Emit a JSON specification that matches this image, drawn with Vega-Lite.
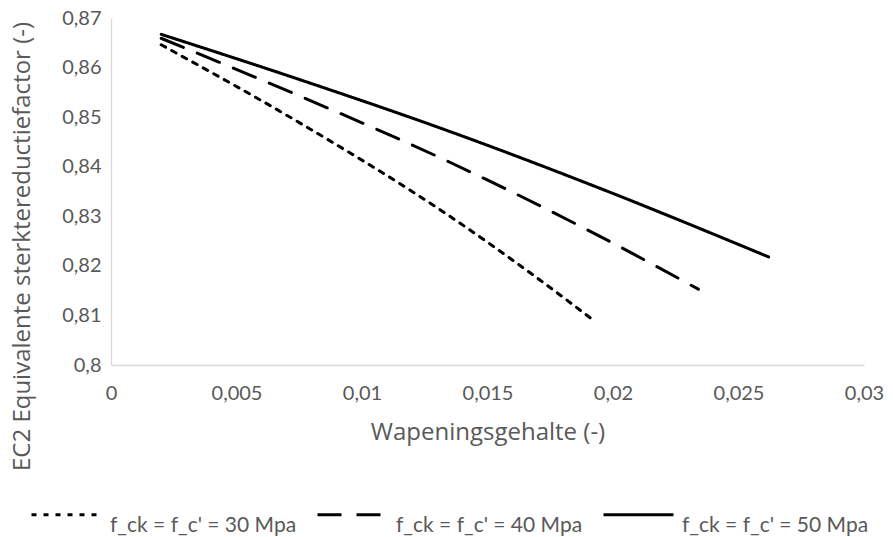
{
  "$schema": "https://vega.github.io/schema/vega-lite/v6.json",
  "width": 753,
  "height": 347,
  "autosize": "none",
  "padding": {"left": 111, "top": 18, "right": 29, "bottom": 172},
  "background": "white",
  "config": {
    "font": "Lato",
    "view": {"stroke": null},
    "axis": {
      "grid": false,
      "ticks": false,
      "domainColor": "#d9d9d9",
      "domainWidth": 1.3,
      "labelColor": "#595959",
      "labelFontSize": 20,
      "labelFont": "Lato",
      "titleColor": "#595959",
      "titleFontSize": 24,
      "titleFont": "Open Sans",
      "titleFontWeight": "normal"
    }
  },
  "data": {
    "values": [
      {"serie": "f_ck = f_c' = 30 Mpa", "rho": 0.002, "factor": 0.8646},
      {"serie": "f_ck = f_c' = 30 Mpa", "rho": 0.0075, "factor": 0.8489},
      {"serie": "f_ck = f_c' = 30 Mpa", "rho": 0.0135, "factor": 0.8300},
      {"serie": "f_ck = f_c' = 30 Mpa", "rho": 0.0171, "factor": 0.8171},
      {"serie": "f_ck = f_c' = 30 Mpa", "rho": 0.0192, "factor": 0.8091},
      {"serie": "f_ck = f_c' = 40 Mpa", "rho": 0.002, "factor": 0.8659},
      {"serie": "f_ck = f_c' = 40 Mpa", "rho": 0.0075, "factor": 0.8543},
      {"serie": "f_ck = f_c' = 40 Mpa", "rho": 0.0135, "factor": 0.8409},
      {"serie": "f_ck = f_c' = 40 Mpa", "rho": 0.0195, "factor": 0.8259},
      {"serie": "f_ck = f_c' = 40 Mpa", "rho": 0.0234, "factor": 0.8153},
      {"serie": "f_ck = f_c' = 50 Mpa", "rho": 0.002, "factor": 0.8667},
      {"serie": "f_ck = f_c' = 50 Mpa", "rho": 0.0075, "factor": 0.8576},
      {"serie": "f_ck = f_c' = 50 Mpa", "rho": 0.0135, "factor": 0.8471},
      {"serie": "f_ck = f_c' = 50 Mpa", "rho": 0.0195, "factor": 0.8356},
      {"serie": "f_ck = f_c' = 50 Mpa", "rho": 0.0262, "factor": 0.8218}
    ]
  },
  "mark": {"type": "line", "strokeWidth": 3, "strokeCap": "round", "interpolate": "monotone"},
  "encoding": {
    "x": {
      "field": "rho",
      "type": "quantitative",
      "scale": {"domain": [0, 0.03], "nice": false},
      "axis": {
        "values": [0, 0.005, 0.01, 0.015, 0.02, 0.025, 0.03],
        "labelExpr": "replace(format(datum.value, '~g'), '.', ',')",
        "labelFlush": false,
        "labelPadding": 18,
        "title": "Wapeningsgehalte (-)",
        "titlePadding": 17
      }
    },
    "y": {
      "field": "factor",
      "type": "quantitative",
      "scale": {"domain": [0.8, 0.87], "nice": false, "zero": false},
      "axis": {
        "values": [0.8, 0.81, 0.82, 0.83, 0.84, 0.85, 0.86, 0.87],
        "labelExpr": "replace(format(datum.value, '~g'), '.', ',')",
        "labelFlush": false,
        "labelPadding": 10,
        "title": "EC2 Equivalente sterktereductiefactor (-)",
        "titlePadding": 27,
        "titleY": 228
      }
    },
    "color": {
      "field": "serie",
      "type": "nominal",
      "scale": {"range": ["black", "black", "black"]},
      "legend": {
        "title": null,
        "orient": "none",
        "legendX": -81,
        "legendY": 460,
        "direction": "horizontal",
        "symbolType": "stroke",
        "symbolSize": 4900,
        "symbolStrokeWidth": 3,
        "labelFontSize": 21,
        "labelFont": "Lato",
        "labelColor": "#595959",
        "labelBaseline": "top",
        "labelOffset": 7,
        "labelLimit": 0,
        "columnPadding": 14
      }
    },
    "strokeDash": {
      "field": "serie",
      "type": "nominal",
      "scale": {"range": [[5, 7], [24, 15], [1, 0]]},
      "legend": {
        "title": null,
        "orient": "none",
        "legendX": -81,
        "legendY": 460,
        "direction": "horizontal",
        "symbolType": "stroke",
        "symbolSize": 4900,
        "symbolStrokeWidth": 3,
        "labelFontSize": 21,
        "labelFont": "Lato",
        "labelColor": "#595959",
        "labelBaseline": "top",
        "labelOffset": 7,
        "labelLimit": 0,
        "columnPadding": 14
      }
    }
  }
}
